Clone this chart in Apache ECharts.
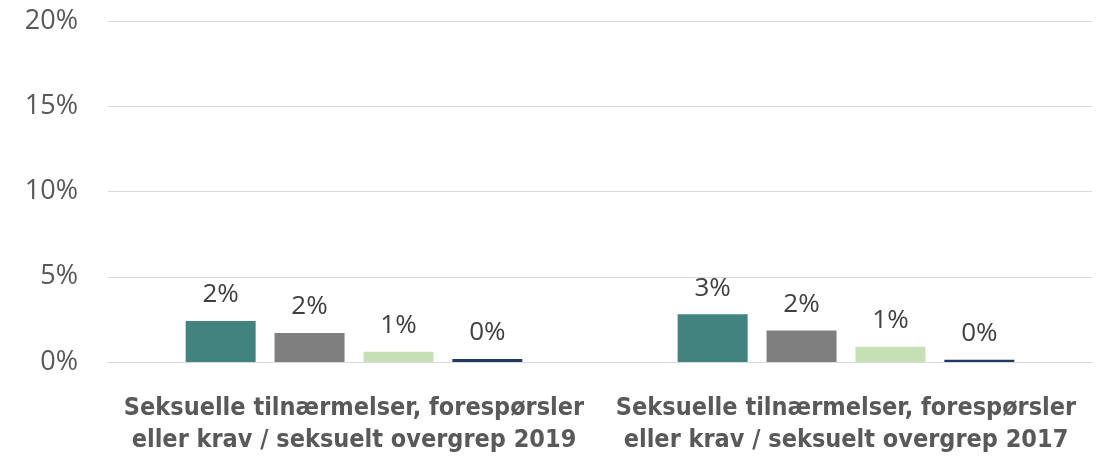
<!DOCTYPE html>
<html>
<head>
<meta charset="utf-8">
<script src="https://cdn.jsdelivr.net/npm/echarts@6/dist/echarts.min.js"></script>
<style>
  html, body { margin: 0; padding: 0; background: #fff; }
  #chart { width: 1119px; height: 461px; }
</style>
</head>
<body>
<div id="chart"></div>
<script>
// kategorier og verdier (prosent), lest av bildet
const categories = [
  'Seksuelle tilnærmelser, forespørsler\neller krav / seksuelt overgrep 2019',
  'Seksuelle tilnærmelser, forespørsler\neller krav / seksuelt overgrep 2017'
]
const seriesA = [2.4, 2.8]
const seriesB = [1.7, 1.85]
const seriesC = [0.6, 0.9]
const seriesD = [0.18, 0.13]
const yTicks = [0, 5, 10, 15, 20]

const colors = ['#41847f', '#7f7f7f', '#c5e0b4', '#203864']

const chart = echarts.init(document.getElementById('chart'))

function bar(data, i) {
  return {
    type: 'bar',
    data: data,
    barWidth: 70,
    barGap: '27%',
    itemStyle: { color: colors[i] },
    label: {
      show: true,
      position: 'top',
      distance: 13,
      color: '#404040',
      fontSize: 26,
      fontFamily: 'Open Sans',
      formatter: (p) => Math.round(p.value) + '%'
    }
  }
}

chart.setOption({
  animation: false,
  grid: { left: 108, right: 27, top: 21, bottom: 99 },
  xAxis: {
    type: 'category',
    data: categories,
    axisTick: { show: false },
    axisLine: { lineStyle: { color: '#d9d9d9', width: 1 } },
    axisLabel: {
      interval: 0,
      hideOverlap: false,
      color: '#595959',
      fontSize: 25,
      fontWeight: 'bold',
      fontFamily: 'DejaVu Sans Condensed',
      lineHeight: 32,
      margin: 30
    }
  },
  yAxis: {
    type: 'value',
    min: yTicks[0],
    max: yTicks[yTicks.length - 1],
    interval: 5,
    axisLabel: {
      color: '#595959',
      fontSize: 27,
      fontFamily: 'Open Sans',
      margin: 30,
      formatter: '{value}%'
    },
    splitLine: { lineStyle: { color: '#d9d9d9', width: 1 } }
  },
  series: [bar(seriesA, 0), bar(seriesB, 1), bar(seriesC, 2), bar(seriesD, 3)]
})
</script>
</body>
</html>
